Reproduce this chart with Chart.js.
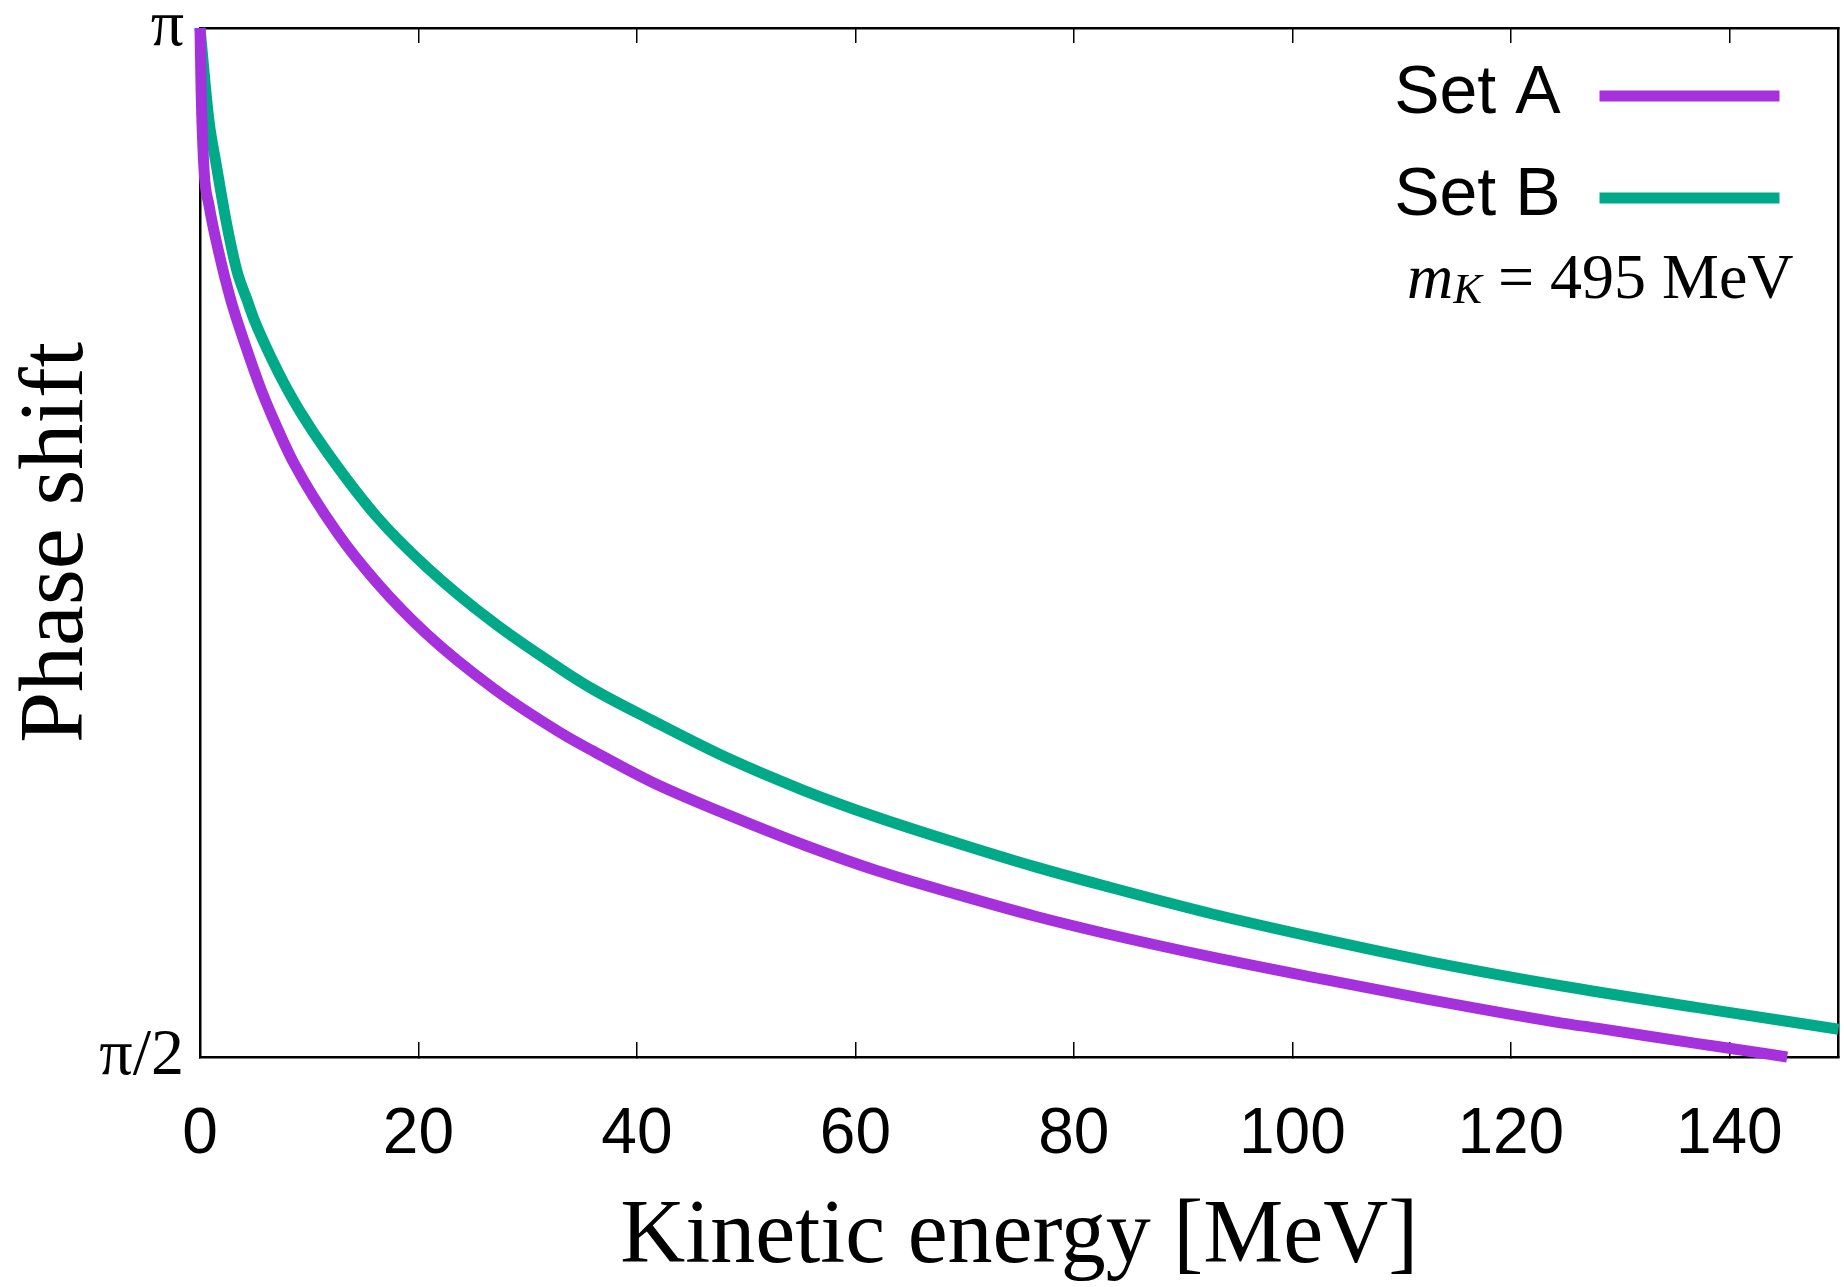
<!DOCTYPE html>
<html>
<head>
<meta charset="utf-8">
<script src="https://cdn.jsdelivr.net/npm/chart.js@4.4.1/dist/chart.umd.min.js"></script>
<style>
  html, body { margin: 0; padding: 0; background: #ffffff; }
  #wrap { width: 1844px; height: 1287px; }
  canvas { display: block; }
</style>
</head>
<body>
<div id="wrap"><canvas id="c" width="1844" height="1287"></canvas></div>
<script>
// ---- data (kinetic energy in MeV, phase shift in radians) ----
const seriesNames = ['Set A', 'Set B'];
const seriesColors = ['#a531dd', '#00aa88'];

const energyA = [0, 0.1, 0.37, 0.82, 1.74, 2.84, 4.21, 5.58, 6.59, 8.6, 12.53, 16.19, 20.76, 26.89, 33.02, 36.04, 41.4, 48.4, 55.3, 62.0, 69.3, 76.4, 82.9, 92.7, 102.6, 112.4, 124.7, 127.9, 137.1, 140.0, 145.3];
const phaseA  = [3.1416, 3.0474, 2.9248, 2.8714, 2.7976, 2.7253, 2.6547, 2.5903, 2.5494, 2.4772, 2.3719, 2.2949, 2.2164, 2.1331, 2.0656, 2.0373, 1.9902, 1.9399, 1.8944, 1.8551, 1.8190, 1.7860, 1.7593, 1.7232, 1.6902, 1.6588, 1.6226, 1.6148, 1.5912, 1.5842, 1.5708];

const energyB = [0, 0.82, 1.46, 2.38, 3.38, 4.30, 4.94, 6.77, 7.68, 9.24, 11.62, 16.19, 20.76, 26.89, 33.02, 36.04, 41.4, 48.4, 55.3, 62.0, 69.3, 76.4, 82.9, 92.7, 102.6, 112.4, 124.7, 137.1, 150];
const phaseB  = [3.1416, 3.0002, 2.9358, 2.8478, 2.7709, 2.7269, 2.6971, 2.6295, 2.5997, 2.5541, 2.4944, 2.3955, 2.3185, 2.2337, 2.1630, 2.1316, 2.0845, 2.0263, 1.9776, 1.9368, 1.8975, 1.8614, 1.8316, 1.7891, 1.7514, 1.7169, 1.6792, 1.6462, 1.6132];

const xTickValues = [0, 20, 40, 60, 80, 100, 120, 140];
const yTickValues = [Math.PI / 2, Math.PI];
const yTickLabels = ['π/2', 'π'];
const xRange = [0, 150];
const yRange = [Math.PI / 2, Math.PI];
const xTitle = 'Kinetic energy [MeV]';
const yTitle = 'Phase shift';
const noteMain = 'm';
const noteSub = 'K';
const noteRest = ' = 495 MeV';

// ---- build datasets ----
function toPoints(xs, ys) { return xs.map((x, i) => ({ x: x, y: ys[i] })); }
const datasets = [
  { label: seriesNames[0], data: toPoints(energyA, phaseA) },
  { label: seriesNames[1], data: toPoints(energyB, phaseB) }
].map((d, i) => Object.assign(d, {
  borderColor: seriesColors[i],
  backgroundColor: seriesColors[i],
  borderWidth: 11,
  pointRadius: 0,
  fill: false,
  cubicInterpolationMode: 'monotone',
  clip: false
}));

// ---- key (text then sample line) and mass note inside the plot ----
const keyPlugin = {
  id: 'keyPlugin',
  afterDatasetsDraw(chart) {
    const { ctx, chartArea: a } = chart;
    ctx.save();
    chart.data.datasets.forEach((ds, i) => {
      const yLine = a.top + 68 + i * 102;
      ctx.strokeStyle = ds.borderColor;
      ctx.lineWidth = 11;
      ctx.lineCap = 'butt';
      ctx.beginPath();
      ctx.moveTo(a.right - 239, yLine);
      ctx.lineTo(a.right - 59, yLine);
      ctx.stroke();
      ctx.fillStyle = '#000';
      ctx.font = '68px "Liberation Sans", Arial, sans-serif';
      ctx.textAlign = 'right';
      ctx.textBaseline = 'alphabetic';
      ctx.fillText(ds.label, a.right - 278, a.top + 85 + i * 102);
    });
    // m_K = 495 MeV
    const base = a.top + 270;
    const fMain = 'italic 64px "Liberation Serif", "Times New Roman", serif';
    const fSub = 'italic 43px "Liberation Serif", "Times New Roman", serif';
    const fRest = '64px "Liberation Serif", "Times New Roman", serif';
    ctx.textAlign = 'left';
    ctx.fillStyle = '#000';
    ctx.font = fMain; const w1 = ctx.measureText(noteMain).width;
    ctx.font = fSub; const w2 = ctx.measureText(noteSub).width;
    ctx.font = fRest; const w3 = ctx.measureText(noteRest).width;
    let x = a.right - 45 - (w1 + w2 + w3);
    ctx.font = fMain; ctx.fillText(noteMain, x, base); x += w1;
    ctx.font = fSub; ctx.fillText(noteSub, x, base + 5); x += w2;
    ctx.font = fRest; ctx.fillText(noteRest, x, base);
    ctx.restore();
  }
};

function noPadX(s) { s.paddingLeft = 0; s.paddingRight = 0; }
function noPadY(s) { s.paddingTop = 0; s.paddingBottom = 0; }

const black = '#000000';
const config = {
  type: 'line',
  data: { datasets: datasets },
  options: {
    responsive: false,
    animation: false,
    devicePixelRatio: 1,
    layout: { padding: { top: 28, right: 3, left: 0, bottom: 0 } },
    plugins: { legend: { display: false }, tooltip: { enabled: false } },
    scales: {
      x: {
        type: 'linear', position: 'bottom', min: xRange[0], max: xRange[1],
        afterFit: s => { s.height = 230; noPadX(s); },
        afterBuildTicks: s => { s.ticks = xTickValues.map(v => ({ value: v })); },
        ticks: {
          autoSkip: false, maxRotation: 0, padding: 55, color: black,
          font: { family: '"Liberation Sans", Arial, sans-serif', size: 64 }
        },
        grid: { drawOnChartArea: false, drawTicks: true, tickLength: -15, color: black, lineWidth: 1.5 },
        border: { display: true, color: black, width: 2.5 },
        title: {
          display: true, text: xTitle, color: black,
          font: { family: '"Liberation Serif", "Times New Roman", serif', size: 90, lineHeight: 1 },
          padding: { top: 0, bottom: 4 }
        }
      },
      x2: {
        type: 'linear', position: 'top', min: xRange[0], max: xRange[1],
        afterFit: s => { s.height = 0; noPadX(s); },
        afterBuildTicks: s => { s.ticks = xTickValues.map(v => ({ value: v })); },
        ticks: { display: false },
        grid: { drawOnChartArea: false, drawTicks: true, tickLength: -15, color: black, lineWidth: 1.5 },
        border: { display: true, color: black, width: 2.5 }
      },
      y: {
        type: 'linear', position: 'left', min: yRange[0], max: yRange[1],
        afterFit: s => { s.width = 200; noPadY(s); },
        afterBuildTicks: s => { s.ticks = yTickValues.map(v => ({ value: v })); },
        ticks: {
          padding: 16, color: black,
          callback: (v, i) => yTickLabels[i],
          font: { family: '"Liberation Serif", "Times New Roman", serif', size: 66 }
        },
        grid: { drawOnChartArea: false, drawTicks: false },
        border: { display: true, color: black, width: 2.5 },
        title: {
          display: true, text: yTitle, color: black,
          font: { family: '"Liberation Serif", "Times New Roman", serif', size: 92, lineHeight: 1 },
          padding: { top: 12, bottom: 0 }
        }
      },
      y2: {
        type: 'linear', position: 'right', min: yRange[0], max: yRange[1],
        afterFit: s => { s.width = 0; noPadY(s); },
        ticks: { display: false },
        grid: { drawOnChartArea: false, drawTicks: false },
        border: { display: true, color: black, width: 2.5 }
      }
    }
  },
  plugins: [keyPlugin]
};

const chart = new Chart(document.getElementById('c'), config);
if (document.fonts && document.fonts.load) {
  Promise.all([
    document.fonts.load('64px "Liberation Sans"'),
    document.fonts.load('64px "Liberation Serif"'),
    document.fonts.load('italic 62px "Liberation Serif"')
  ]).then(() => chart.update()).catch(() => {});
}
</script>
</body>
</html>
